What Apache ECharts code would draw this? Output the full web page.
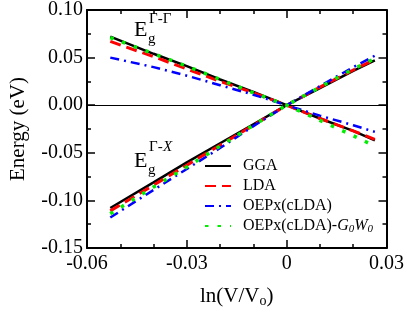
<!DOCTYPE html>
<html>
<head>
<meta charset="utf-8">
<script src="https://cdn.jsdelivr.net/npm/echarts@6/dist/echarts.min.js"></script>
<style>html,body{margin:0;padding:0;background:#fff;}#c{width:407px;height:313px;}</style>
</head>
<body>
<div id="c"></div>
<script>
// ---- data ----
var lnV = [-0.053, -0.04, -0.03, -0.02, -0.01, 0, 0.01, 0.02, 0.0265];
// Gamma-Gamma gap shifts (eV)
var ggaGG = [0.072, 0.054, 0.041, 0.027, 0.014, 0.000, -0.014, -0.027, -0.037];
var ldaGG = [0.067, 0.051, 0.038, 0.025, 0.013, 0.000, -0.014, -0.027, -0.036];
var oepGG = [0.050, 0.040, 0.031, 0.021, 0.011, 0.000, -0.011, -0.021, -0.028];
var gwGG  = [0.071, 0.054, 0.041, 0.027, 0.013, 0.000, -0.016, -0.032, -0.043];
// Gamma-X gap shifts (eV)
var ggaGX = [-0.108, -0.081, -0.060, -0.040, -0.020, 0.000, 0.018, 0.036, 0.047];
var ldaGX = [-0.111, -0.084, -0.063, -0.042, -0.021, 0.000, 0.019, 0.037, 0.048];
var oepGX = [-0.118, -0.089, -0.067, -0.045, -0.022, 0.000, 0.020, 0.040, 0.052];
var gwGX  = [-0.114, -0.086, -0.065, -0.043, -0.021, 0.000, 0.019, 0.038, 0.049];
var names = ['GGA', 'LDA', 'OEPx(cLDA)', 'OEPx(cLDA)-G0W0'];
var xTicks = [-0.06, 0.03, 0.03]; // min, max, interval
var yTicks = [-0.15, 0.10, 0.05];

function pairs(ys) { return lnV.map(function (x, i) { return [x, ys[i]]; }); }

var FONT = '"Liberation Serif", serif';
var styles = [
  { color: '#000000', width: 2.5, type: 'solid' },
  { color: '#ff0000', width: 3, type: [11, 6] },
  { color: '#0000ff', width: 2.5, type: [9, 5, 2, 5] },
  { color: '#00ee00', width: 3.5, type: [3.5, 9] }
];
var sets = [[ggaGG, ggaGX], [ldaGG, ldaGX], [oepGG, oepGX], [gwGG, gwGX]];

var series = [];
sets.forEach(function (s, k) {
  s.forEach(function (ys, j) {
    series.push({
      name: names[k], type: 'line', data: pairs(ys), symbol: 'none', showSymbol: false,
      lineStyle: { color: styles[k].color, width: styles[k].width, type: styles[k].type, cap: 'butt' },
      itemStyle: { color: styles[k].color },
      z: 3 + k, animation: false, silent: true
    });
  });
});
series[0].markLine = {
  silent: true, symbol: ['none', 'none'], label: { show: false },
  lineStyle: { color: '#000', width: 1, type: 'solid' },
  data: [{ yAxis: 0 }], animation: false
};

function mkAxis(pos, rng, split, showLabel, fmt, margin) {
  return {
    type: 'value', position: pos, min: rng[0], max: rng[1], interval: rng[2],
    axisLine: { show: true, onZero: false, lineStyle: { color: '#000', width: 2 } },
    axisTick: { show: true, inside: true, length: 8, lineStyle: { color: '#000', width: 1.5 } },
    minorTick: { show: true, splitNumber: split, length: 4, lineStyle: { color: '#000', width: 1.5 } },
    splitLine: { show: false },
    minorSplitLine: { show: false },
    axisLabel: {
      show: showLabel, margin: margin, formatter: fmt,
      fontFamily: FONT, fontSize: 20, color: '#000'
    }
  };
}
var fmtX = function (v) { return Math.abs(v) < 1e-9 ? '0' : v.toFixed(2); };
var fmtY = function (v) { return v.toFixed(2); };

var xb = mkAxis('bottom', xTicks, 3, true, fmtX, 6);
xb.name = '{a|ln(V/V}{b|o}{a|)}';
xb.nameLocation = 'middle';
xb.nameGap = 36;
xb.nameTextStyle = { rich: {
  a: { fontFamily: FONT, fontSize: 21, color: '#000', lineHeight: 22 },
  b: { fontFamily: FONT, fontSize: 14, color: '#000', padding: [10, 0, 0, 0] }
} };
var xt = mkAxis('top', xTicks, 3, false, fmtX, 6);
var yl = mkAxis('left', yTicks, 2, true, fmtY, 4);
yl.name = 'Energy (eV)';
yl.nameLocation = 'middle';
yl.nameGap = 58;
yl.nameTextStyle = { fontFamily: FONT, fontSize: 21, color: '#000' };
var yr = mkAxis('right', yTicks, 2, false, fmtY, 4);

var option = {
  animation: false,
  grid: { left: 76, right: 19, top: 7, bottom: 60 },
  xAxis: [xb, xt],
  yAxis: [yl, yr],
  legend: {
    orient: 'vertical', left: 199, top: 153,
    itemWidth: 26, itemHeight: 14, itemGap: 4,
    data: names,
    itemStyle: { opacity: 0 },
    textStyle: {
      fontFamily: FONT, fontSize: 16, color: '#000', padding: [0, 0, 0, 7],
      rich: {
        n: { fontFamily: FONT, fontSize: 16, color: '#000' },
        i: { fontFamily: FONT, fontSize: 16, color: '#000', fontStyle: 'italic' },
        s: { fontFamily: FONT, fontSize: 11, color: '#000', fontStyle: 'italic', padding: [7, 0, 0, 0] }
      }
    },
    formatter: function (n) {
      return n === 'OEPx(cLDA)-G0W0' ? '{n|OEPx(cLDA)-}{i|G}{s|0}{i|W}{s|0}' : n;
    }
  },
  graphic: [
    { type: 'text', left: 134, top: 19, style: { text: 'E', font: '22px "Liberation Serif"', fill: '#000' } },
    { type: 'text', left: 149, top: 12, style: { text: 'Γ-Γ', font: '15px "Liberation Serif"', fill: '#000' } },
    { type: 'text', left: 148, top: 32, style: { text: 'g', font: '15px "Liberation Serif"', fill: '#000' } },
    { type: 'text', left: 134, top: 150, style: { text: 'E', font: '22px "Liberation Serif"', fill: '#000' } },
    { type: 'text', left: 149, top: 140, style: { text: 'Γ-', font: '15px "Liberation Serif"', fill: '#000' } },
    { type: 'text', left: 163, top: 140, style: { text: 'X', font: 'italic 15px "Liberation Serif"', fill: '#000' } },
    { type: 'text', left: 148, top: 163, style: { text: 'g', font: '15px "Liberation Serif"', fill: '#000' } }
  ],
  series: series
};

var chart = echarts.init(document.getElementById('c'), null, { renderer: 'canvas' });
chart.setOption(option);
</script>
</body>
</html>
